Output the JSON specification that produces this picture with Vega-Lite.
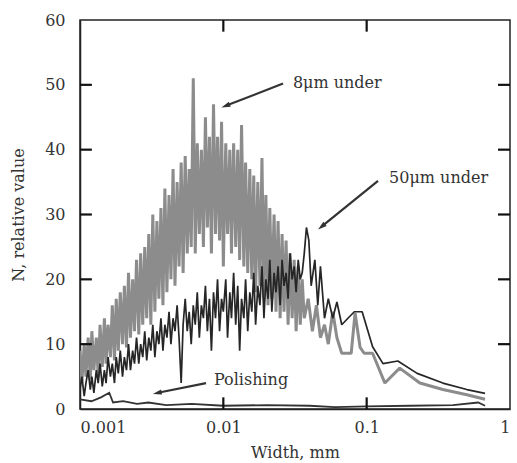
{
  "$schema": "https://vega.github.io/schema/vega-lite/v6.json",
  "width": 430,
  "height": 389,
  "autosize": "none",
  "padding": {"left": 80, "top": 20, "right": 7, "bottom": 54},
  "background": "white",
  "config": {
    "view": {"stroke": "#222", "strokeWidth": 1.5},
    "font": "DejaVu Serif",
    "axis": {"grid": false, "domainColor": "#222", "domainWidth": 1.5, "labelColor": "#333", "titleColor": "#333", "labelFont": "DejaVu Serif", "titleFont": "DejaVu Serif", "labelFontSize": 16, "titleFontSize": 16, "titleFontWeight": "normal"}
  },
  "datasets": {
    "g": [
      {"w":0.00100,"n":9},{"w":0.00103,"n":4},{"w":0.00107,"n":10},{"w":0.00110,"n":5},{"w":0.00114,"n":11},{"w":0.00118,"n":4.5},{"w":0.00121,"n":12},{"w":0.00125,"n":6},{"w":0.00130,"n":11},{"w":0.00134,"n":5},
      {"w":0.00138,"n":13},{"w":0.00143,"n":6.5},{"w":0.00148,"n":14},{"w":0.00152,"n":7},{"w":0.00157,"n":13},{"w":0.00163,"n":8},{"w":0.00168,"n":16},{"w":0.00174,"n":7.5},{"w":0.00179,"n":17},{"w":0.00185,"n":9},
      {"w":0.00191,"n":18},{"w":0.00198,"n":10},{"w":0.00204,"n":19},{"w":0.00211,"n":9.5},{"w":0.00218,"n":21},{"w":0.00225,"n":11},{"w":0.00233,"n":20},{"w":0.00240,"n":12},{"w":0.00248,"n":23},{"w":0.00257,"n":11.5},
      {"w":0.00265,"n":24},{"w":0.00274,"n":13},{"w":0.00283,"n":25},{"w":0.00292,"n":14},{"w":0.00302,"n":27},{"w":0.00312,"n":13},{"w":0.00322,"n":30},{"w":0.00333,"n":15},{"w":0.00344,"n":29},{"w":0.00355,"n":17},
      {"w":0.00367,"n":31},{"w":0.00379,"n":16},{"w":0.00391,"n":34},{"w":0.00404,"n":18},{"w":0.00418,"n":33},{"w":0.00431,"n":20},{"w":0.00446,"n":37},{"w":0.00460,"n":19},{"w":0.00476,"n":35},{"w":0.00491,"n":22},
      {"w":0.00508,"n":38},{"w":0.00524,"n":21},{"w":0.00542,"n":39},{"w":0.00560,"n":24},{"w":0.00578,"n":37},{"w":0.00597,"n":25},{"w":0.00617,"n":51},{"w":0.00637,"n":24},{"w":0.00658,"n":41},{"w":0.00680,"n":27},
      {"w":0.00703,"n":40},{"w":0.00726,"n":25},{"w":0.00750,"n":45},{"w":0.00774,"n":28},{"w":0.00800,"n":42},{"w":0.00826,"n":24},{"w":0.00854,"n":47},{"w":0.00882,"n":27},{"w":0.00911,"n":42},{"w":0.00941,"n":26},
      {"w":0.00972,"n":44.3},{"w":0.0100,"n":22},{"w":0.0104,"n":41},{"w":0.0107,"n":27},{"w":0.0111,"n":40},{"w":0.0114,"n":24},{"w":0.0118,"n":41},{"w":0.0122,"n":25},{"w":0.0126,"n":40},{"w":0.0130,"n":23},
      {"w":0.0134,"n":43.8},{"w":0.0139,"n":22},{"w":0.0143,"n":38},{"w":0.0148,"n":21},{"w":0.0153,"n":37},{"w":0.0158,"n":20},{"w":0.0163,"n":36},{"w":0.0168,"n":18},{"w":0.0174,"n":35},{"w":0.0180,"n":19},
      {"w":0.0186,"n":38.7},{"w":0.0192,"n":17},{"w":0.0198,"n":33},{"w":0.0205,"n":16},{"w":0.0211,"n":31},{"w":0.0218,"n":17},{"w":0.0226,"n":30},{"w":0.0233,"n":15},{"w":0.0241,"n":29},{"w":0.0249,"n":14},
      {"w":0.0257,"n":27},{"w":0.0265,"n":15},{"w":0.0274,"n":26},{"w":0.0283,"n":13},{"w":0.0292,"n":24},{"w":0.0302,"n":14},{"w":0.0312,"n":23},{"w":0.0322,"n":12},{"w":0.0333,"n":22},{"w":0.0344,"n":13},
      {"w":0.0355,"n":20},{"w":0.0367,"n":14},{"w":0.0391,"n":17},{"w":0.0418,"n":12},{"w":0.0446,"n":16},{"w":0.0476,"n":11},{"w":0.0508,"n":13},{"w":0.054,"n":10},{"w":0.058,"n":15},{"w":0.062,"n":11},
      {"w":0.067,"n":8.6},{"w":0.073,"n":8.6},{"w":0.078,"n":8.6},{"w":0.083,"n":14.8},{"w":0.09,"n":9.5},{"w":0.096,"n":8.6},{"w":0.11,"n":8.6},{"w":0.134,"n":4},{"w":0.17,"n":6.3},{"w":0.235,"n":4},
      {"w":0.34,"n":3},{"w":0.5,"n":2.2},{"w":0.67,"n":1.5}
    ],
    "d": [
      {"w":0.00100,"n":3},{"w":0.00103,"n":5},{"w":0.00107,"n":2},{"w":0.00110,"n":4},{"w":0.00114,"n":6},{"w":0.00118,"n":3},{"w":0.00121,"n":5},{"w":0.00125,"n":2.5},{"w":0.00130,"n":6},{"w":0.00134,"n":4},
      {"w":0.00138,"n":7},{"w":0.00143,"n":3.5},{"w":0.00148,"n":6},{"w":0.00152,"n":4},{"w":0.00157,"n":8},{"w":0.00163,"n":5},{"w":0.00168,"n":7},{"w":0.00174,"n":4},{"w":0.00179,"n":8},{"w":0.00185,"n":5.5},
      {"w":0.00191,"n":9},{"w":0.00198,"n":5},{"w":0.00204,"n":8},{"w":0.00211,"n":6},{"w":0.00218,"n":10},{"w":0.00225,"n":6},{"w":0.00233,"n":9},{"w":0.00240,"n":7},{"w":0.00248,"n":11},{"w":0.00257,"n":7},
      {"w":0.00265,"n":10},{"w":0.00274,"n":8},{"w":0.00283,"n":12},{"w":0.00292,"n":7.5},{"w":0.00302,"n":11},{"w":0.00312,"n":9},{"w":0.00322,"n":13},{"w":0.00333,"n":8},{"w":0.00344,"n":12},{"w":0.00355,"n":10},
      {"w":0.00367,"n":14},{"w":0.00379,"n":9},{"w":0.00391,"n":13},{"w":0.00404,"n":11},{"w":0.00418,"n":15},{"w":0.00431,"n":10},{"w":0.00446,"n":14},{"w":0.00460,"n":12},{"w":0.00476,"n":16},{"w":0.00491,"n":11},
      {"w":0.00508,"n":4},{"w":0.00524,"n":13},{"w":0.00542,"n":17},{"w":0.00560,"n":12},{"w":0.00578,"n":15},{"w":0.00597,"n":10},{"w":0.00617,"n":16},{"w":0.00637,"n":13},{"w":0.00658,"n":18},{"w":0.00680,"n":11},
      {"w":0.00703,"n":16},{"w":0.00726,"n":14},{"w":0.00750,"n":19},{"w":0.00774,"n":12},{"w":0.00800,"n":17},{"w":0.00826,"n":9},{"w":0.00854,"n":18},{"w":0.00882,"n":14},{"w":0.00911,"n":20},{"w":0.00941,"n":12},
      {"w":0.00972,"n":17},{"w":0.0100,"n":15},{"w":0.0104,"n":20},{"w":0.0107,"n":11},{"w":0.0111,"n":18},{"w":0.0114,"n":14},{"w":0.0118,"n":21},{"w":0.0122,"n":13},{"w":0.0126,"n":19},{"w":0.0130,"n":9},
      {"w":0.0134,"n":17},{"w":0.0139,"n":14},{"w":0.0143,"n":20},{"w":0.0148,"n":12},{"w":0.0153,"n":18},{"w":0.0158,"n":15},{"w":0.0163,"n":21},{"w":0.0168,"n":13},{"w":0.0174,"n":19},{"w":0.0180,"n":16},
      {"w":0.0186,"n":22},{"w":0.0192,"n":14},{"w":0.0198,"n":20},{"w":0.0205,"n":17},{"w":0.0211,"n":23},{"w":0.0218,"n":15},{"w":0.0226,"n":21},{"w":0.0233,"n":18},{"w":0.0241,"n":22},{"w":0.0249,"n":16},
      {"w":0.0257,"n":23},{"w":0.0265,"n":19},{"w":0.0274,"n":21},{"w":0.0283,"n":17},{"w":0.0292,"n":24},{"w":0.0302,"n":20},{"w":0.0312,"n":22},{"w":0.0322,"n":18},{"w":0.0333,"n":23},{"w":0.0344,"n":20},
      {"w":0.0355,"n":21},{"w":0.0367,"n":24},{"w":0.038,"n":28},{"w":0.0395,"n":26},{"w":0.041,"n":19},{"w":0.0435,"n":23},{"w":0.0456,"n":16},{"w":0.0476,"n":22},{"w":0.0508,"n":14},{"w":0.054,"n":17},
      {"w":0.058,"n":14},{"w":0.062,"n":16.5},{"w":0.067,"n":13},{"w":0.074,"n":14},{"w":0.082,"n":15},{"w":0.093,"n":15},{"w":0.11,"n":9.6},{"w":0.13,"n":7},{"w":0.165,"n":7.4},{"w":0.225,"n":5.5},
      {"w":0.34,"n":4},{"w":0.5,"n":3},{"w":0.67,"n":2.4}
    ],
    "p": [
      {"w":0.001,"n":1.5},{"w":0.0012,"n":1.2},{"w":0.0014,"n":1.8},{"w":0.0016,"n":2.5},{"w":0.0017,"n":1},{"w":0.002,"n":1.2},{"w":0.0025,"n":0.8},{"w":0.003,"n":1},{"w":0.004,"n":0.6},{"w":0.006,"n":0.8},
      {"w":0.01,"n":0.5},{"w":0.02,"n":0.6},{"w":0.04,"n":0.5},{"w":0.06,"n":0.3},{"w":0.1,"n":0.4},{"w":0.2,"n":0.5},{"w":0.4,"n":0.6},{"w":0.6,"n":1},{"w":0.67,"n":0.5}
    ],
    "xt": [{"w":0.01},{"w":0.1}],
    "yt": [{"n":10},{"n":20},{"n":30},{"n":40},{"n":50}],
    "labels": [
      {"w":0.0301,"n":50.3,"t":"8μm under"},
      {"w":0.141,"n":35.6,"t":"50μm under"},
      {"w":0.00847,"n":4.5,"t":"Polishing"}
    ],
    "arrows": [
      {"k":"a","w1":0.0261,"n1":50.2,"w2":0.0105,"n2":46.8},
      {"k":"b","w1":0.120,"n1":35.2,"w2":0.0489,"n2":28.2},
      {"k":"c","w1":0.00757,"n1":4.0,"w2":0.0035,"n2":2.5}
    ]
  },
  "layer": [
    {
      "data": {"name": "g"},
      "mark": {"type": "line", "color": "#8c8c8c", "strokeWidth": 3, "strokeJoin": "bevel", "clip": true},
      "encoding": {
        "x": {"field": "w", "type": "quantitative", "scale": {"type": "log", "domain": [0.001, 1], "nice": false}, "axis": {"title": "Width, mm", "values": [0.001, 0.01, 0.1, 1], "format": "~g", "ticks": false, "labelPadding": 10, "labelFlush": true, "titlePadding": 9}},
        "y": {"field": "n", "type": "quantitative", "scale": {"domain": [0, 60], "nice": false}, "axis": {"title": "N, relative value", "values": [0, 10, 20, 30, 40, 50, 60], "ticks": false, "labelPadding": 15, "titlePadding": 18}}
      }
    },
    {
      "data": {"name": "d"},
      "mark": {"type": "line", "color": "#262626", "strokeWidth": 1.7, "strokeJoin": "bevel", "clip": true},
      "encoding": {
        "x": {"field": "w", "type": "quantitative"},
        "y": {"field": "n", "type": "quantitative"}
      }
    },
    {
      "data": {"name": "p"},
      "mark": {"type": "line", "color": "#333333", "strokeWidth": 1.8, "clip": true},
      "encoding": {
        "x": {"field": "w", "type": "quantitative"},
        "y": {"field": "n", "type": "quantitative"}
      }
    },
    {
      "data": {"name": "xt"},
      "mark": {"type": "rule", "color": "#111", "strokeWidth": 2.2},
      "encoding": {
        "x": {"field": "w", "type": "quantitative"},
        "y": {"datum": 0},
        "y2": {"datum": 1.8}
      }
    },
    {
      "data": {"name": "xt"},
      "mark": {"type": "rule", "color": "#111", "strokeWidth": 2.2},
      "encoding": {
        "x": {"field": "w", "type": "quantitative"},
        "y": {"datum": 58.2},
        "y2": {"datum": 60}
      }
    },
    {
      "data": {"name": "yt"},
      "mark": {"type": "rule", "color": "#111", "strokeWidth": 2.2},
      "encoding": {
        "y": {"field": "n", "type": "quantitative"},
        "x": {"datum": 0.001},
        "x2": {"datum": 0.00121}
      }
    },
    {
      "data": {"name": "yt"},
      "mark": {"type": "rule", "color": "#111", "strokeWidth": 2.2},
      "encoding": {
        "y": {"field": "n", "type": "quantitative"},
        "x": {"datum": 0.825},
        "x2": {"datum": 1}
      }
    },
    {
      "data": {"name": "arrows"},
      "mark": {"type": "rule", "color": "#333", "strokeWidth": 2.2},
      "encoding": {
        "x": {"field": "w1", "type": "quantitative"},
        "y": {"field": "n1", "type": "quantitative"},
        "x2": {"field": "w2"},
        "y2": {"field": "n2"}
      }
    },
    {
      "data": {"name": "arrows"},
      "transform": [{"filter": "datum.k == 'a'"}],
      "mark": {"type": "point", "shape": "M0,-1L0.5,0.7L-0.5,0.7Z", "filled": true, "color": "#333", "opacity": 1, "size": 110, "angle": 249},
      "encoding": {
        "x": {"field": "w2", "type": "quantitative"},
        "y": {"field": "n2", "type": "quantitative"}
      }
    },
    {
      "data": {"name": "arrows"},
      "transform": [{"filter": "datum.k == 'b'"}],
      "mark": {"type": "point", "shape": "M0,-1L0.5,0.7L-0.5,0.7Z", "filled": true, "color": "#333", "opacity": 1, "size": 110, "angle": 231},
      "encoding": {
        "x": {"field": "w2", "type": "quantitative"},
        "y": {"field": "n2", "type": "quantitative"}
      }
    },
    {
      "data": {"name": "arrows"},
      "transform": [{"filter": "datum.k == 'c'"}],
      "mark": {"type": "point", "shape": "M0,-1L0.5,0.7L-0.5,0.7Z", "filled": true, "color": "#333", "opacity": 1, "size": 110, "angle": 258},
      "encoding": {
        "x": {"field": "w2", "type": "quantitative"},
        "y": {"field": "n2", "type": "quantitative"}
      }
    },
    {
      "data": {"name": "labels"},
      "mark": {"type": "text", "align": "left", "baseline": "middle", "font": "DejaVu Serif", "fontSize": 16, "color": "#333", "dx": 1},
      "encoding": {
        "x": {"field": "w", "type": "quantitative"},
        "y": {"field": "n", "type": "quantitative"},
        "text": {"field": "t"}
      }
    }
  ]
}
